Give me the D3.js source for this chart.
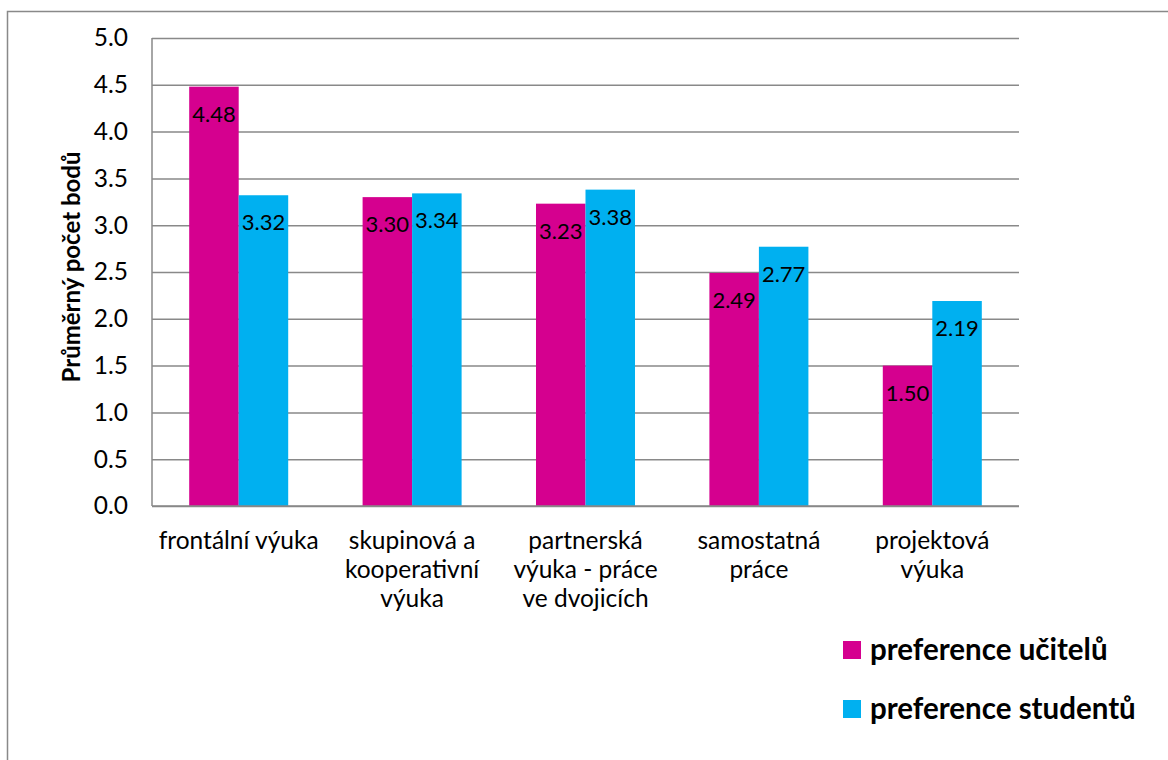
<!DOCTYPE html>
<html>
<head>
<meta charset="utf-8">
<script src="https://cdn.jsdelivr.net/npm/d3@7"></script>
<style>
  html, body { margin: 0; padding: 0; background: #fff; }
  svg { display: block; font-family: Lato, "Open Sans", sans-serif; }
</style>
</head>
<body>
<svg id="chart" width="1168" height="760"></svg>
<script>
// Teaching-method categories (each label split into its display lines)
const categories = [
  ["frontální výuka"],
  ["skupinová a", "kooperativní", "výuka"],
  ["partnerská", "výuka - práce", "ve dvojicích"],
  ["samostatná", "práce"],
  ["projektová", "výuka"]
];
const seriesNames = ["preference učitelů", "preference studentů"];
const teacherValues = [4.48, 3.30, 3.23, 2.49, 1.50];
const studentValues = [3.32, 3.34, 3.38, 2.77, 2.19];
const yTicks = [0, 0.5, 1, 1.5, 2, 2.5, 3, 3.5, 4, 4.5, 5];
const yTitle = "Průměrný počet bodů";
const colors = ["#D5008F", "#00B0F0"];

const svg = d3.select("#chart");
const plot = { left: 152, right: 1019, top: 38, bottom: 506 };
const gridColor = "#898989";

// outer chart frame
svg.append("rect")
  .attr("x", 7.5).attr("y", 11.5)
  .attr("width", 1200).attr("height", 800)
  .attr("fill", "none").attr("stroke", gridColor).attr("stroke-width", 1.5);

const catKeys = categories.map((c, i) => i);
const x0 = d3.scaleBand()
  .domain(catKeys)
  .range([plot.left, plot.right])
  .paddingInner(0.429)
  .paddingOuter(0.2145);
const x1 = d3.scaleBand()
  .domain([0, 1])
  .range([0, x0.bandwidth()]);
const y = d3.scaleLinear().domain([0, 5]).range([plot.bottom, plot.top]);

// horizontal gridlines + y tick labels
const yAxis = d3.axisLeft(y)
  .tickValues(yTicks)
  .tickFormat(d3.format(".1f"))
  .tickSize(-(plot.right - plot.left))
  .tickPadding(24);
const gy = svg.append("g")
  .attr("transform", `translate(${plot.left},0)`)
  .call(yAxis);
gy.select(".domain").remove();
gy.selectAll(".tick line").attr("stroke", gridColor).attr("stroke-width", 1.5);
gy.selectAll(".tick text")
  .attr("fill", "#000")
  .style("font-size", "24.5px")
  .style("font-family", "Lato, sans-serif");

// vertical axis line
svg.append("line")
  .attr("x1", plot.left).attr("x2", plot.left)
  .attr("y1", plot.top).attr("y2", plot.bottom)
  .attr("stroke", gridColor).attr("stroke-width", 1.5);

// y axis title
svg.append("text")
  .attr("transform", `translate(80,267) rotate(-90)`)
  .attr("text-anchor", "middle")
  .style("font-size", "24px")
  .style("font-weight", "bold")
  .attr("fill", "#000")
  .text(yTitle);

// bars
const rows = catKeys.map(i => [teacherValues[i], studentValues[i]]);
const groups = svg.append("g").selectAll("g")
  .data(rows)
  .join("g")
  .attr("transform", (d, i) => `translate(${x0(i)},0)`);

groups.selectAll("rect")
  .data(d => d.map((v, s) => ({ v, s })))
  .join("rect")
  .attr("x", d => x1(d.s))
  .attr("y", d => y(d.v))
  .attr("width", x1.bandwidth())
  .attr("height", d => y(0) - y(d.v))
  .attr("fill", d => colors[d.s]);

// value labels, inside the top of each bar
groups.selectAll("text")
  .data(d => d.map((v, s) => ({ v, s })))
  .join("text")
  .attr("x", d => x1(d.s) + x1.bandwidth() / 2)
  .attr("y", d => y(d.v) + 35)
  .attr("text-anchor", "middle")
  .style("font-size", "22px")
  .attr("fill", "#000")
  .text(d => d.v.toFixed(2));

// redraw baseline over bars
svg.append("line")
  .attr("x1", plot.left).attr("x2", plot.right)
  .attr("y1", plot.bottom).attr("y2", plot.bottom)
  .attr("stroke", gridColor).attr("stroke-width", 1.5);

// category labels
const catG = svg.append("g");
categories.forEach((lines, i) => {
  const t = catG.append("text")
    .attr("text-anchor", "middle")
    .style("font-size", "24.5px")
    .attr("fill", "#000");
  lines.forEach((ln, j) => {
    t.append("tspan")
      .attr("x", x0(i) + x0.bandwidth() / 2)
      .attr("y", 549 + j * 29)
      .text(ln);
  });
});

// legend
const legend = svg.append("g");
seriesNames.forEach((name, i) => {
  const ly = 641 + i * 59;
  legend.append("rect")
    .attr("x", 843).attr("y", ly)
    .attr("width", 18).attr("height", 18)
    .attr("fill", colors[i]);
  legend.append("text")
    .attr("x", 870).attr("y", ly + 19)
    .style("font-size", "29.5px")
    .style("font-weight", "bold")
    .attr("fill", "#000")
    .text(name);
});
</script>
</body>
</html>
